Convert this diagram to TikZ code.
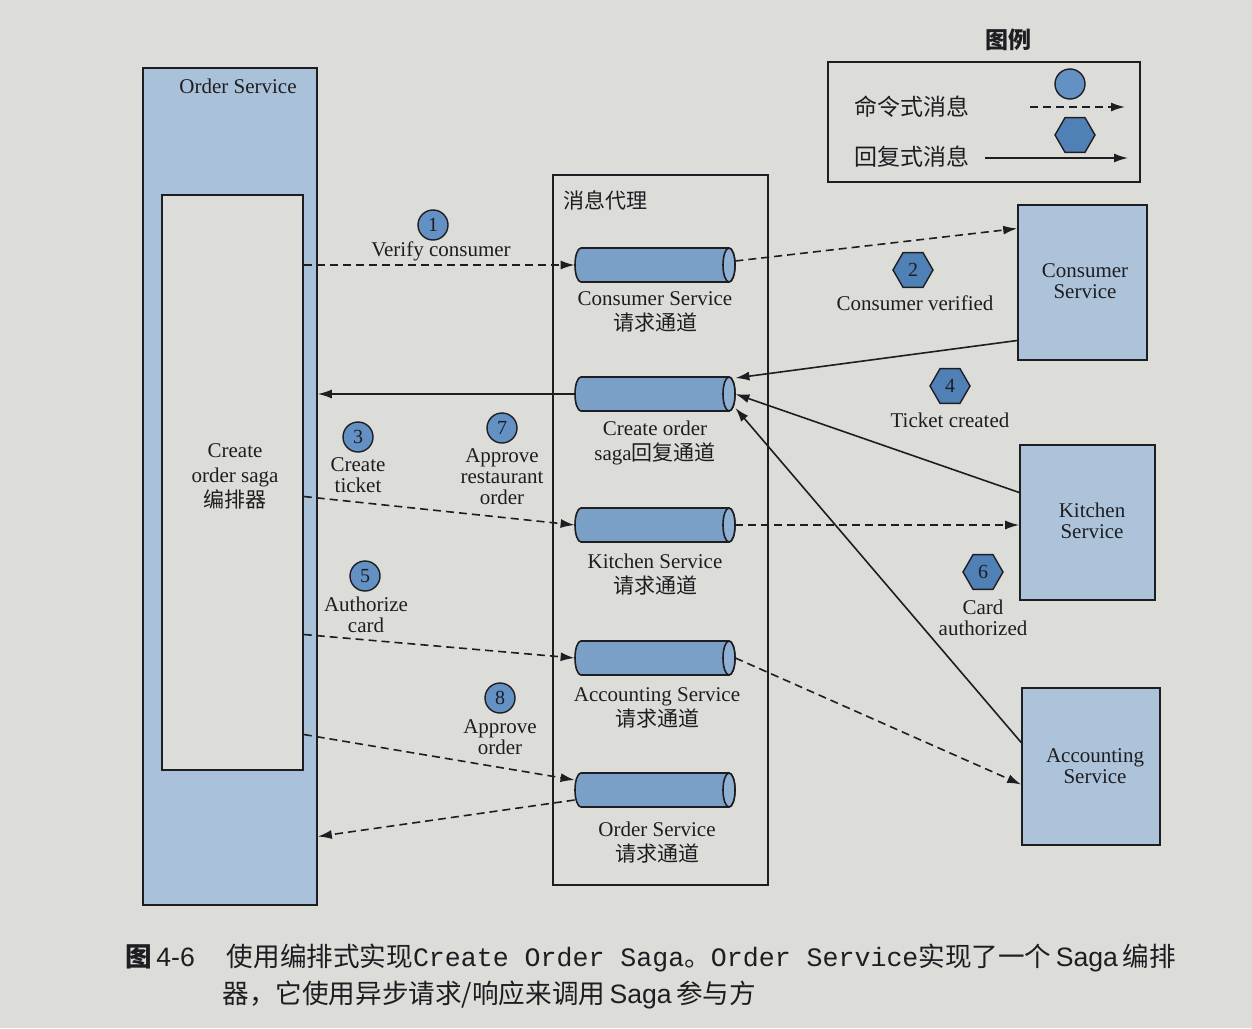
\documentclass[tikz,border=0pt]{standalone}
\usepackage{fontspec}
\setmainfont{Liberation Serif}
\setmonofont{Liberation Mono}
\setsansfont{Liberation Sans}
\newfontfamily\cjk{Noto Sans CJK SC}
\usetikzlibrary{shapes.geometric,arrows.meta,calc}
\definecolor{pagebg}{HTML}{DCDCD8}
\definecolor{barblue}{HTML}{A9C2DA}
\definecolor{boxblue}{HTML}{ADC3D9}
\definecolor{cylblue}{HTML}{7AA0C8}
\definecolor{capblue}{HTML}{8FB0D2}
\definecolor{badge}{HTML}{6391C3}
\definecolor{hexblue}{HTML}{4F80B6}
\definecolor{ink}{HTML}{1E1E22}
\tikzset{
  lbl/.style={font=\fontsize{10.5}{10.5}\selectfont, text=ink, align=center, inner sep=0pt},
  clbl/.style={font=\fontsize{10.5}{12.5}\selectfont, text=ink, align=center, inner sep=0pt},
  svc/.style={draw=ink, line width=0.8pt, fill=boxblue, inner sep=0pt},
  chanbox/.style={minimum width=80pt, minimum height=17pt, inner sep=0pt},
  pipeline/.style={draw=ink, line width=0.8pt},
  cnum/.style={circle, draw=ink, line width=0.7pt, fill=badge, minimum size=15pt, inner sep=0pt,
    font=\fontsize{10}{10}\selectfont, text=ink},
  hnum/.style={regular polygon, regular polygon sides=6, draw=ink, line width=0.7pt, fill=hexblue,
    minimum size=20pt, inner sep=0pt, font=\fontsize{10}{10}\selectfont, text=ink},
  cmd/.style={draw=ink, line width=0.8pt, dash pattern=on 4pt off 2.5pt, -{Latex[length=7pt,width=4.5pt]}},
  rep/.style={draw=ink, line width=0.8pt, -{Latex[length=7pt,width=4.5pt]}},
}
% channel (horizontal cylinder): name, position
\newcommand\chanpipe[2]{%
  \node[chanbox] (#1) at (#2) {};
  \begin{scope}[shift={(#1.center)}, x=1pt, y=1pt]
    \draw[pipeline, fill=cylblue] (-37,8.5) -- (37,8.5)
      arc[start angle=90, end angle=-90, x radius=3, y radius=8.5]
      -- (-37,-8.5)
      arc[start angle=270, end angle=90, x radius=3, y radius=8.5] -- cycle;
    \draw[pipeline, fill=capblue] (37,0) ellipse [x radius=3, y radius=8.5];
  \end{scope}}
\begin{document}
\begin{tikzpicture}[x=0.5pt,y=-0.5pt]
\useasboundingbox (0,0) rectangle (1252,1028);
\fill[pagebg] (0,0) rectangle (1252,1028);

% Order Service column
\node[draw=ink, line width=0.8pt, fill=barblue, minimum width=87pt, minimum height=418.5pt, inner sep=0pt] (os) at (230,486.5) {};
\node[lbl] (ostitle) at (238,86) {Order Service};
\node[draw=ink, line width=0.8pt, fill=pagebg, minimum width=70.5pt, minimum height=287.5pt, inner sep=0pt] (saga) at (232.5,482.5) {};
\node[clbl] (sagatxt) at (235,476) {Create\\order saga\\{\cjk 编排器}};

% Message broker
\node[draw=ink, line width=0.8pt, minimum width=107.5pt, minimum height=355pt, inner sep=0pt] (broker) at (660.5,530) {};
\node[lbl, font=\cjk\fontsize{10.5}{12}\selectfont] (brokertxt) at (605,200) {消息代理};

% Channels
\chanpipe{c1}{655,265}
\chanpipe{c2}{655,394}
\chanpipe{c3}{655,525}
\chanpipe{c4}{655,658}
\chanpipe{c5}{655,790}
\node[clbl] (c1t) at (655,312) {Consumer Service\\{\cjk 请求通道}};
\node[clbl] (c2t) at (655,443) {Create order\\saga{\cjk 回复通道}};
\node[clbl] (c3t) at (655,575) {Kitchen Service\\{\cjk 请求通道}};
\node[clbl] (c4t) at (657,708) {Accounting Service\\{\cjk 请求通道}};
\node[clbl] (c5t) at (657,843) {Order Service\\{\cjk 请求通道}};

% Services
\node[svc, minimum width=64.5pt, minimum height=77.5pt] (cons) at (1082.5,282.5) {};
\node[lbl] (const) at (1085,281) {Consumer\\Service};
\node[svc, minimum width=67.5pt, minimum height=77.5pt] (kit) at (1087.5,522.5) {};
\node[lbl] (kitt) at (1092,521) {Kitchen\\Service};
\node[svc, minimum width=69pt, minimum height=78.5pt] (acc) at (1091,766.5) {};
\node[lbl] (acct) at (1095,766) {Accounting\\Service};

% Badges and labels
\node[cnum] (n1) at (433,225) {1};
\node[lbl] (l1) at (441,251) {Verify consumer};
\node[hnum] (n2) at (913,270) {2};
\node[lbl] (l2) at (915,303) {Consumer verified};
\node[cnum] (n3) at (358,437) {3};
\node[lbl] (l3) at (358,475) {Create\\ticket};
\node[hnum] (n4) at (950,386) {4};
\node[lbl] (l4) at (950,420) {Ticket created};
\node[cnum] (n5) at (365,576) {5};
\node[lbl] (l5) at (366,615) {Authorize\\card};
\node[hnum] (n6) at (983,572) {6};
\node[lbl] (l6) at (983,618) {Card\\authorized};
\node[cnum] (n7) at (502,428) {7};
\node[lbl] (l7) at (502,477) {Approve\\restaurant\\order};
\node[cnum] (n8) at (500,698) {8};
\node[lbl] (l8) at (500,737) {Approve\\order};

% Connectors
\draw[cmd] (saga.east |- c1.west) -- (c1.west);
\draw[cmd] ([yshift=2pt]c1.east) -- ([yshift=27pt]cons.west);
\draw[rep] ([yshift=-29pt]cons.west) -- ([yshift=8pt]c2.east);
\draw[rep] ([yshift=15pt]kit.west) -- (c2.east);
\draw[rep] ([yshift=12pt]acc.west) -- ([yshift=-7pt]c2.east);
\draw[rep] (c2.west) -- (c2.west -| os.east);
\draw[cmd] ([yshift=-7pt]saga.east) -- (c3.west);
\draw[cmd] (c3.east) -- (c3.east -| kit.west);
\draw[cmd] ([yshift=-76pt]saga.east) -- (c4.west);
\draw[cmd] (c4.east) -- ([yshift=-9pt]acc.west);
\draw[cmd] ([yshift=-126pt]saga.east) -- ([yshift=5pt]c5.west);
\draw[cmd] ([yshift=-5pt]c5.west) -- ([yshift=-175pt]os.east);

% Legend
\node[lbl, font=\cjk\bfseries\fontsize{11.5}{12}\selectfont] (legtitle) at (1008,40) {图例};
\node[draw=ink, line width=0.8pt, minimum width=156pt, minimum height=60pt, inner sep=0pt] (legend) at (984,122) {};
\node[circle, draw=ink, line width=0.7pt, fill=badge, minimum size=15pt, inner sep=0pt] (legc) at (1070,84) {};
\node[regular polygon, regular polygon sides=6, draw=ink, line width=0.7pt, fill=hexblue, minimum size=20pt, inner sep=0pt] (legh) at (1075,135) {};
\node[lbl, font=\cjk\fontsize{11.5}{12}\selectfont] (legcmd) at (912,107) {命令式消息};
\node[lbl, font=\cjk\fontsize{11.5}{12}\selectfont] (legrep) at (912,157) {回复式消息};
\coordinate (la1) at (1030,107);
\coordinate (lb1) at (1125,107);
\coordinate (la2) at (985,158);
\coordinate (lb2) at (1128,158);
\draw[cmd] (la1) -- (lb1);
\draw[rep] (la2) -- (lb2);

% Caption
\node[anchor=west, inner sep=0pt, text=ink, font=\fontsize{13.3}{15}\selectfont] (cap1) at (125,958)
  {{\cjk\bfseries 图}\,{\sffamily 4-6}\hspace{1.2em}{\cjk 使用编排式实现}\texttt{Create Order Saga}{\cjk 。}\texttt{Order Service}{\cjk 实现了一个}\,{\sffamily Saga}\,{\cjk 编排}};
\node[anchor=west, inner sep=0pt, text=ink, font=\fontsize{13.3}{15}\selectfont] (cap2) at (222,995)
  {{\cjk 器，它使用异步请求/响应来调用}\,{\sffamily Saga}\,{\cjk 参与方}};
\end{tikzpicture}
\end{document}
